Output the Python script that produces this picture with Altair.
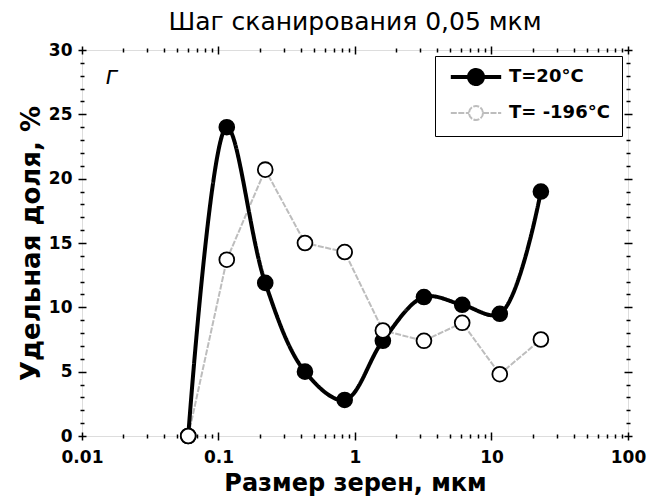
import altair as alt
import pandas as pd

# ---- data ----
sizes = [0.06, 0.115, 0.22, 0.43, 0.84, 1.6, 3.2, 6.1, 11.5, 23.0]
share_20 = [0.0, 24.0, 11.9, 5.0, 2.8, 7.4, 10.8, 10.2, 9.5, 19.0]
share_196 = [0.0, 13.7, 20.7, 15.0, 14.3, 8.2, 7.4, 8.8, 4.8, 7.5]
series_names = ["T=20°C", "T= -196°C"]

x_major = [0.01, 0.1, 1, 10, 100]
x_minor = [m * 10.0 ** e for e in range(-2, 2) for m in range(2, 10)]
y_major = list(range(0, 31, 5))
y_minor = [v for v in range(0, 31) if v % 5]

panel_text = ["г"]
panel_x = [0.0165]
panel_y = [27.9]

FONT = "DejaVu Sans, Liberation Sans, sans-serif"

df = pd.DataFrame({
    "size": sizes + sizes,
    "share": share_20 + share_196,
    "series": [series_names[0]] * len(sizes) + [series_names[1]] * len(sizes),
})
lab = pd.DataFrame({"x": panel_x, "y": panel_y, "t": panel_text})

xs = alt.Scale(type="log", domain=[0.01, 100], nice=False)
ys = alt.Scale(domain=[0, 30], nice=False, zero=False)

stroke_scale = alt.Scale(domain=series_names, range=["black", "#bdbdbd"])
fill_scale = alt.Scale(domain=series_names, range=["black", "white"])
sw_scale = alt.Scale(domain=series_names, range=[4, 2])
dash_scale = alt.Scale(domain=series_names, range=[[1, 0], [6, 1.5]])

SYM = "M-3.6,0H-1M1,0H3.6M1,0A1,1,0,1,1,-1,0A1,1,0,1,1,1,0Z"
leg = alt.Legend(
    title=None, symbolType=SYM, symbolSize=196, orient="top-right", offset=6,
    labelFont=FONT, labelFontSize=18, labelFontWeight="bold", labelColor="black",
    strokeColor="black", fillColor="white", padding=12, rowPadding=10,
    symbolOffset=20, labelOffset=24,
)

TICK = dict(tickColor="black", tickWidth=1.5, domain=False, grid=False)
LBL = dict(labelFont=FONT, labelFontSize=17, labelFontWeight="bold", labelColor="black",
           labelFlush=False, labelOverlap=False)
TTL = dict(titleFont=FONT, titleFontWeight="bold", titleColor="black")


def axis_layer(xaxis, yaxis):
    return alt.Chart(df).mark_point(opacity=0).encode(
        x=alt.X("size:Q", scale=xs, axis=xaxis),
        y=alt.Y("share:Q", scale=ys, axis=yaxis),
    )


ax_main = axis_layer(
    alt.Axis(orient="bottom", values=x_major, format=".2~f", tickSize=8, offset=-4,
             labelPadding=9, title="Размер зерен, мкм", titleFontSize=24, titlePadding=6,
             **LBL, **TTL, **TICK),
    alt.Axis(orient="left", values=y_major, tickSize=8, offset=-4,
             labelPadding=6, title="Удельная доля, %", titleFontSize=26, titlePadding=4,
             **LBL, **TTL, **TICK),
)
ax_minor = axis_layer(
    alt.Axis(orient="bottom", values=x_minor, tickSize=4, offset=-2, labels=False, title=None, **TICK),
    alt.Axis(orient="left", values=y_minor, tickSize=4, offset=-2, labels=False, title=None, **TICK),
)
ax_opp_main = axis_layer(
    alt.Axis(orient="top", values=x_major, tickSize=8, offset=-4, labels=False, title=None, **TICK),
    alt.Axis(orient="right", values=y_major, tickSize=8, offset=-4, labels=False, title=None, **TICK),
)
ax_opp_minor = axis_layer(
    alt.Axis(orient="top", values=x_minor, tickSize=4, offset=-2, labels=False, title=None, **TICK),
    alt.Axis(orient="right", values=y_minor, tickSize=4, offset=-2, labels=False, title=None, **TICK),
)


def line_enc():
    return dict(
        x=alt.X("size:Q", scale=xs, axis=None),
        y=alt.Y("share:Q", scale=ys, axis=None),
        stroke=alt.Stroke("series:N", scale=stroke_scale, legend=leg),
        strokeWidth=alt.StrokeWidth("series:N", scale=sw_scale, legend=leg),
        strokeDash=alt.StrokeDash("series:N", scale=dash_scale, legend=leg),
    )


gray_line = alt.Chart(df).transform_filter(
    alt.datum.series == series_names[1]
).mark_line(interpolate="linear").encode(**line_enc())

black_line = alt.Chart(df).transform_filter(
    alt.datum.series == series_names[0]
).mark_line(interpolate="catmull-rom").encode(**line_enc())

points = alt.Chart(df).mark_point(
    shape="circle", filled=True, size=220, stroke="black", strokeWidth=1.8, opacity=1
).encode(
    x=alt.X("size:Q", scale=xs, axis=None),
    y=alt.Y("share:Q", scale=ys, axis=None),
    fill=alt.Fill("series:N", scale=fill_scale, legend=leg),
)

panel = alt.Chart(lab).mark_text(
    font=FONT, fontSize=24, fontStyle="italic", color="black"
).encode(
    x=alt.X("x:Q", scale=xs, axis=None),
    y=alt.Y("y:Q", scale=ys, axis=None),
    text="t:N",
)

chart = alt.layer(
    ax_main, ax_minor, ax_opp_main, ax_opp_minor,
    gray_line, black_line, points, panel,
).resolve_axis(
    x="independent", y="independent"
).properties(
    width=546, height=386,
    title=alt.Title("Шаг сканирования 0,05 мкм", font=FONT, fontSize=25,
                    fontWeight="normal", color="black", anchor="middle", offset=6),
    padding={"left": 10, "top": 2, "right": 5, "bottom": 5},
).configure_view(
    stroke="black", strokeWidth=1.5
).configure(background="white")

chart.save("out.html", embed_options={"renderer": "svg", "actions": False})
